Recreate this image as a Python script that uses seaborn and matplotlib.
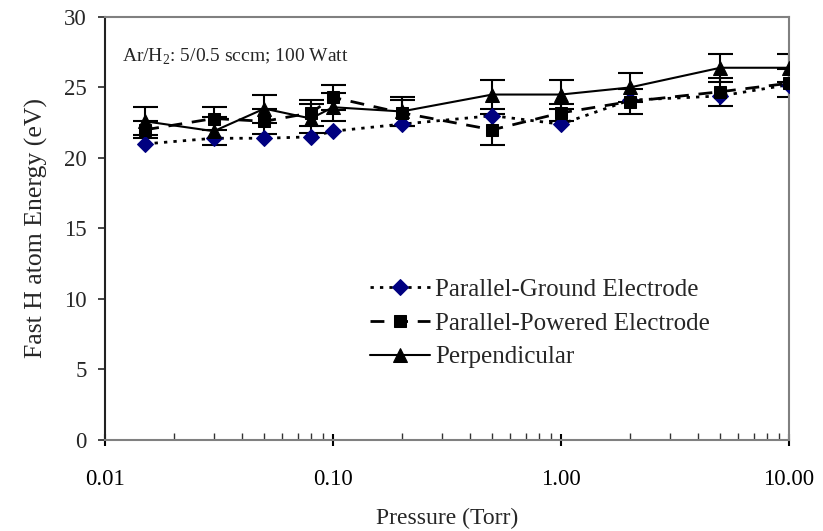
import numpy as np
import pandas as pd
import matplotlib
matplotlib.use("Agg")
import matplotlib.pyplot as plt
import matplotlib.ticker as mticker
import seaborn as sns

# pressures (Torr)
pressure = [0.015, 0.03, 0.05, 0.08, 0.1, 0.2, 0.5, 1.0, 2.0, 5.0, 10.0]

# fast H atom energy (eV)
ground = [21.0, 21.4, 21.4, 21.5, 21.9, 22.4, 23.0, 22.4, 24.1, 24.4, 25.2]
powered = [22.0, 22.8, 22.6, 23.2, 24.3, 23.2, 22.0, 23.2, 24.0, 24.7, 25.3]
perp = [22.6, 21.9, 23.5, 22.8, 23.6, 23.3, 24.5, 24.5, 25.0, 26.4, 26.4]

# error bar half widths
powered_err = [0.6, 0.8, 0.9, 0.9, 0.9, 0.9, 1.1, 0.6, 0.9, 1.0, 1.0]
perp_err = [1.0, 1.0, 1.0, 1.0, 1.0, 1.0, 1.0, 1.0, 1.0, 1.0, 1.0]

labels = ["Parallel-Ground Electrode", "Parallel-Powered Electrode", "Perpendicular"]
xticks = [0.01, 0.1, 1, 10]
xtick_labels = ["0.01", "0.10", "1.00", "10.00"]

sns.set_style("ticks")
plt.rcParams['font.family'] = ['Liberation Serif', 'DejaVu Serif']
plt.rcParams['mathtext.fontset'] = 'custom'
plt.rcParams['mathtext.rm'] = 'Liberation Serif'

fig = plt.figure(figsize=(8.23, 5.31), dpi=100)
ax = fig.add_axes([0.1276, 0.1714, 0.8311, 0.7966])

df = pd.DataFrame({"p": pressure, "ground": ground, "powered": powered, "perp": perp})

# error bars first so markers sit on top
ax.errorbar(pressure, powered, yerr=powered_err, fmt='none', ecolor='black',
            elinewidth=1.5, capsize=9, capthick=1.5, zorder=2)
ax.errorbar(pressure, perp, yerr=perp_err, fmt='none', ecolor='black',
            elinewidth=1.5, capsize=9, capthick=1.5, zorder=2)

sns.lineplot(data=df, x="p", y="ground", ax=ax, color='black', linestyle=(0, (1.2, 2.2)),
             linewidth=2, marker='D', markersize=8.5, markerfacecolor='#000080',
             markeredgecolor='#000080', label=labels[0], zorder=3)
sns.lineplot(data=df, x="p", y="powered", ax=ax, color='black', linestyle=(0, (5, 3.5)),
             linewidth=2, marker='s', markersize=9, markerfacecolor='black',
             markeredgecolor='black', label=labels[1], zorder=3)
sns.lineplot(data=df, x="p", y="perp", ax=ax, color='black', linestyle='-',
             linewidth=1.5, marker='^', markersize=10, markerfacecolor='black',
             markeredgecolor='black', label=labels[2], zorder=3)

ax.set_xscale('log')
ax.set_xlim(0.01, 10)
ax.set_ylim(0, 30)
ax.set_yticks(range(0, 31, 5))
ax.xaxis.set_major_locator(mticker.FixedLocator(xticks))
ax.xaxis.set_major_formatter(mticker.FixedFormatter(xtick_labels))
ax.xaxis.set_minor_locator(mticker.LogLocator(base=10, subs=np.arange(2, 10)))
ax.xaxis.set_minor_formatter(mticker.NullFormatter())

ax.tick_params(axis='x', which='major', direction='inout', length=8, width=1.5,
               labelsize=16.5, pad=17, colors='black')
ax.tick_params(axis='x', which='minor', direction='in', length=5, width=1, color='#333333')
ax.tick_params(axis='y', which='major', direction='out', length=5, width=1.2,
               labelsize=16.5, pad=8)

for side in ['top', 'right', 'bottom']:
    ax.spines[side].set_visible(True)
    ax.spines[side].set_color('#808080')
    ax.spines[side].set_linewidth(1.5)
ax.spines['left'].set_color('#222222')
ax.spines['left'].set_linewidth(1.5)

ax.set_xlabel("Pressure (Torr)", fontsize=17, labelpad=13)
ax.set_ylabel("Fast H atom Energy (eV)", fontsize=18.5, labelpad=12)

ax.text(0.025, 0.905, "Ar/H$_2$: 5/0.5 sccm; 100 Watt", transform=ax.transAxes,
        fontsize=14, ha='left', va='center')

ax.legend(loc='upper left', bbox_to_anchor=(0.355, 0.435), frameon=False,
          fontsize=18, handlelength=2.4, labelspacing=0.45, handletextpad=0.2)

fig.savefig("out.png", dpi=100)
